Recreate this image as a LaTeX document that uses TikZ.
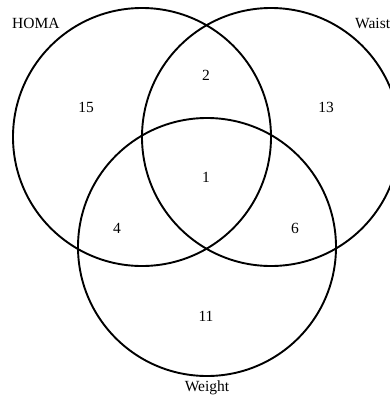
\documentclass[tikz,border=0pt]{standalone}
\usepackage{fontspec}
\setmainfont{Liberation Serif}
\begin{document}
\begin{tikzpicture}[x=1bp,y=-1bp,
  set/.style={circle, draw=black, line width=1.9bp, minimum size=258bp, inner sep=0pt},
  lbl/.style={font=\fontsize{15.5bp}{18bp}\selectfont, inner sep=0pt}]
\useasboundingbox (0,0) rectangle (390,400);
\clip (0,0) rectangle (390,400);
\fill[white] (0,0) rectangle (390,400);
\node[set] (homa) at (142,137) {};
\node[set] (waist) at (271,137) {};
\node[set] (weight) at (207,247) {};
\node[lbl, anchor=west] (thoma) at (12,23) {HOMA};
\node[lbl, anchor=west] (twaist) at (355,23) {Waist};
\node[lbl] (tweight) at (207,388) {Weight};
\node[lbl] (n15) at (86,107) {15};
\node[lbl] (n2) at (206,75) {2};
\node[lbl] (n13) at (326,107) {13};
\node[lbl] (n1) at (206,177) {1};
\node[lbl] (n4) at (117,228) {4};
\node[lbl] (n6) at (295,228) {6};
\node[lbl] (n11) at (206,316) {11};
\end{tikzpicture}
\end{document}
